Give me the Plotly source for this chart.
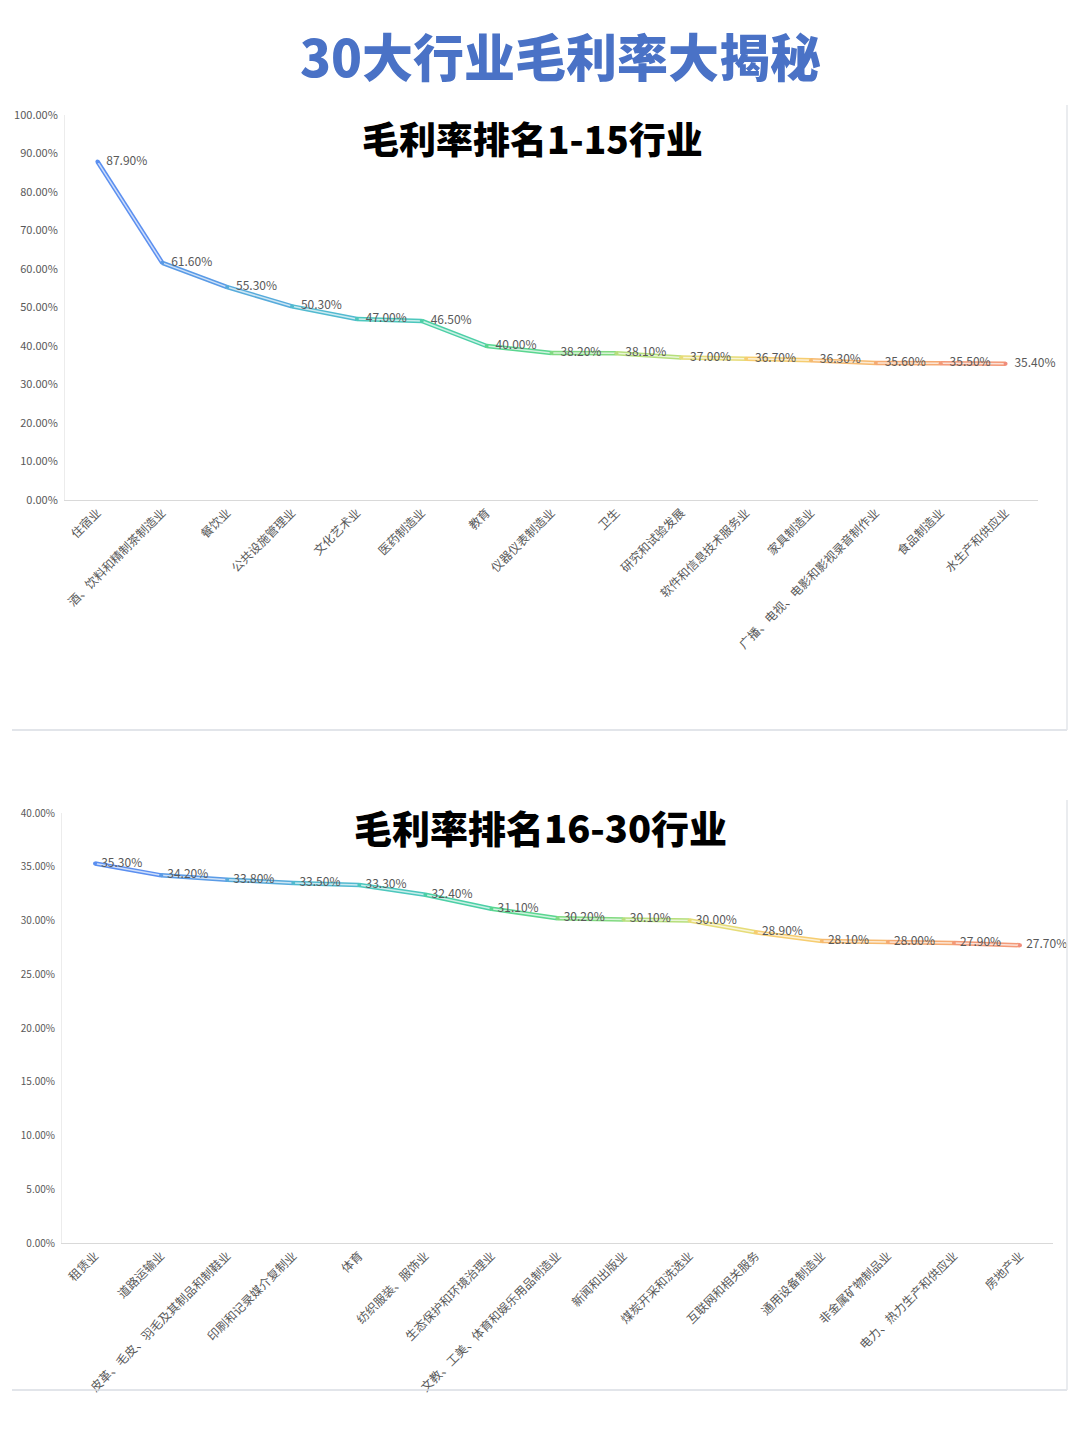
import plotly.graph_objects as go

# 毛利率排名1-15
industries_top = ["住宿业", "酒、饮料和精制茶制造业", "餐饮业", "公共设施管理业", "文化艺术业",
                  "医药制造业", "教育", "仪器仪表制造业", "卫生", "研究和试验发展",
                  "软件和信息技术服务业", "家具制造业", "广播、电视、电影和影视录音制作业",
                  "食品制造业", "水生产和供应业"]
margin_top = [87.90, 61.60, 55.30, 50.30, 47.00, 46.50, 40.00, 38.20, 38.10, 37.00,
              36.70, 36.30, 35.60, 35.50, 35.40]

# 毛利率排名16-30
industries_bottom = ["租赁业", "道路运输业", "皮革、毛皮、羽毛及其制品和制鞋业", "印刷和记录媒介复制业",
                     "体育", "纺织服装、服饰业", "生态保护和环境治理业", "文教、工美、体育和娱乐用品制造业",
                     "新闻和出版业", "煤炭开采和洗选业", "互联网和相关服务", "通用设备制造业",
                     "非金属矿物制品业", "电力、热力生产和供应业", "房地产业"]
margin_bottom = [35.30, 34.20, 33.80, 33.50, 33.30, 32.40, 31.10, 30.20, 30.10, 30.00,
                 28.90, 28.10, 28.00, 27.90, 27.70]

# blue -> green -> yellow -> orange gradient along the line
gradient = ["#5b8ff0", "#5a9be6", "#57abdb", "#52bad0", "#4cc7bd", "#4ccfa6", "#5ad690",
            "#82da82", "#b6df7c", "#e6dc78", "#f6cd70", "#f6ba70", "#f5aa72", "#f39a78", "#f08c7c"]

W, H = 1080, 1440
GRAY = "#595959"
FONT = "Noto Sans CJK SC"

fig = go.Figure()


def add_line(cats, vals, xa, ya, pad):
    # gradient line drawn segment by segment, outer stroke + light core
    for i in range(len(cats) - 1):
        fig.add_trace(go.Scatter(x=cats[i:i + 2], y=vals[i:i + 2], mode="lines",
                                 line=dict(color=gradient[i], width=4.5),
                                 xaxis=xa, yaxis=ya, hoverinfo="skip", showlegend=False))
        fig.add_trace(go.Scatter(x=cats[i:i + 2], y=vals[i:i + 2], mode="lines",
                                 line=dict(color="rgba(255,255,255,0.7)", width=1.5),
                                 xaxis=xa, yaxis=ya, hoverinfo="skip", showlegend=False))
    fig.add_trace(go.Scatter(x=cats, y=vals, mode="markers+text",
                             marker=dict(color=gradient, size=4),
                             text=[pad + f"{v:.2f}%" for v in vals],
                             textposition="middle right", cliponaxis=False,
                             textfont=dict(size=12, color=GRAY, family=FONT),
                             xaxis=xa, yaxis=ya, showlegend=False))


add_line(industries_top, margin_top, "x", "y", "\u00a0\u00a0")
add_line(industries_bottom, margin_bottom, "x2", "y2", "\u00a0")

xcommon = dict(type="category", tickangle=-45, showgrid=False, showline=True, automargin=False,
               linecolor="#d9d9d9", linewidth=1, ticks="", tickfont=dict(size=12, color=GRAY, family=FONT))
ycommon = dict(showgrid=False, zeroline=False, showline=True, linecolor="#ececec", linewidth=1,
               automargin=False, ticks="", ticksuffix="%", tickformat=".2f", ticklabelstandoff=4,
               tickfont=dict(color=GRAY, family=FONT))

fig.update_layout(
    width=W, height=H,
    margin=dict(l=0, r=0, t=0, b=0, autoexpand=False),
    paper_bgcolor="white", plot_bgcolor="white",
    showlegend=False,
    xaxis=dict(xcommon, domain=[65 / W, 1038 / W], categoryorder="array",
               categoryarray=industries_top, range=[-0.5, 14.5], anchor="y"),
    yaxis=dict(ycommon, domain=[1 - 500 / H, 1 - 115 / H], range=[0, 100], dtick=10,
               tickfont=dict(size=11, color=GRAY, family=FONT), anchor="x"),
    xaxis2=dict(xcommon, domain=[62 / W, 1053 / W], categoryorder="array",
                categoryarray=industries_bottom, range=[-0.5, 14.5], anchor="y2"),
    yaxis2=dict(ycommon, domain=[1 - 1243 / H, 1 - 813 / H], range=[0, 40], dtick=5,
                tickfont=dict(size=10, color=GRAY, family=FONT), anchor="x2"),
)

# titles
fig.add_annotation(x=560 / W, y=1 - 55 / H, xref="paper", yref="paper", showarrow=False,
                   text="30大行业毛利率大揭秘", yanchor="middle",
                   font=dict(size=51, color="#4a72c6", family=FONT, weight=900))
fig.add_annotation(x=532 / W, y=1 - 138 / H, xref="paper", yref="paper", showarrow=False,
                   text="毛利率排名1-15行业", yanchor="middle",
                   font=dict(size=37, color="black", family=FONT, weight=900))
fig.add_annotation(x=540 / W, y=1 - 826 / H, xref="paper", yref="paper", showarrow=False,
                   text="毛利率排名16-30行业", yanchor="middle",
                   font=dict(size=38, color="black", family=FONT, weight=900))

# panel borders (right and bottom edges)
for top, bottom in [(105, 730), (800, 1390)]:
    fig.add_shape(type="line", xref="paper", yref="paper",
                  x0=12 / W, x1=1067 / W, y0=1 - bottom / H, y1=1 - bottom / H,
                  line=dict(color="#d9dde3", width=1.5))
    fig.add_shape(type="line", xref="paper", yref="paper",
                  x0=1067 / W, x1=1067 / W, y0=1 - bottom / H, y1=1 - top / H,
                  line=dict(color="#e3e6ea", width=1.5))

fig.write_html("out.html", config={"displayModeBar": False},
               post_script="document.body.style.margin='0';")
